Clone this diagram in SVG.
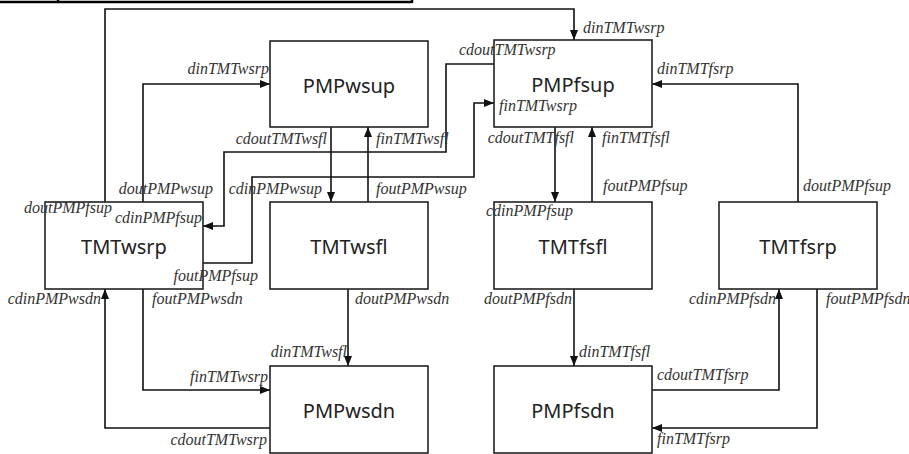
<svg xmlns="http://www.w3.org/2000/svg" width="909" height="454" viewBox="0 0 909 454">
  <defs>
    <marker id="arrow" markerUnits="userSpaceOnUse" markerWidth="11" markerHeight="8" refX="10" refY="4" orient="auto">
      <path d="M0,0 L10,4 L0,8 z" fill="#111"/>
    </marker>
    <style>
      .box { fill: #fff; stroke: #222; stroke-width: 1.6; }
      .name { font-family: "Noto Sans", "Open Sans", sans-serif; font-size: 20px; fill: #222; text-anchor: middle; dominant-baseline: central; }
      .wire { fill: none; stroke: #111; stroke-width: 1.6; }
      .arr { marker-end: url(#arrow); }
      .port { font-family: "Liberation Serif", "Times New Roman", serif; font-style: italic; font-size: 16px; fill: #333; }
      .end { text-anchor: end; }
      .frame { stroke: #000; stroke-width: 2.5; fill: none; }
    </style>
  </defs>

  <rect width="909" height="454" fill="#fff"/>

  <!-- table edge at the top -->
  <g id="table-edge">
    <path class="frame" d="M0,2 H412 M58,0 V3 M412,0 V3"/>
  </g>

  <!-- connectors -->
  <g id="connectors">
    <path class="wire arr" d="M105,202 V9 H574 V40"/>
    <path class="wire arr" d="M143,202 V84 H270"/>
    <path class="wire arr" d="M494,64 H446 V152 H224 V226 H203"/>
    <path class="wire arr" d="M203,263 H252 V177 H474 V103 H494"/>
    <path class="wire arr" d="M331,127 V202"/>
    <path class="wire arr" d="M368,202 V127"/>
    <path class="wire arr" d="M555,127 V202"/>
    <path class="wire arr" d="M592,202 V127"/>
    <path class="wire arr" d="M798,202 V84 H652"/>
    <path class="wire arr" d="M143,289 V390 H270"/>
    <path class="wire arr" d="M270,428 H105 V289"/>
    <path class="wire arr" d="M348,289 V366"/>
    <path class="wire arr" d="M574,289 V366"/>
    <path class="wire arr" d="M652,390 H779 V289"/>
    <path class="wire arr" d="M817,289 V428 H652"/>
  </g>

  <!-- nodes -->
  <g id="PMPwsup">
    <rect class="box" x="270" y="41" width="158" height="86"/>
    <text class="name" x="349" y="85">PMPwsup</text>
  </g>
  <g id="PMPfsup">
    <rect class="box" x="494" y="40" width="158" height="87"/>
    <text class="name" x="573" y="84">PMPfsup</text>
  </g>
  <g id="TMTwsrp">
    <rect class="box" x="45" y="202" width="158" height="87"/>
    <text class="name" x="124" y="246">TMTwsrp</text>
  </g>
  <g id="TMTwsfl">
    <rect class="box" x="270" y="202" width="158" height="87"/>
    <text class="name" x="349" y="246">TMTwsfl</text>
  </g>
  <g id="TMTfsfl">
    <rect class="box" x="494" y="202" width="158" height="87"/>
    <text class="name" x="573" y="246">TMTfsfl</text>
  </g>
  <g id="TMTfsrp">
    <rect class="box" x="719" y="202" width="158" height="87"/>
    <text class="name" x="798" y="246">TMTfsrp</text>
  </g>
  <g id="PMPwsdn">
    <rect class="box" x="270" y="366" width="158" height="87"/>
    <text class="name" x="349" y="410">PMPwsdn</text>
  </g>
  <g id="PMPfsdn">
    <rect class="box" x="494" y="366" width="158" height="87"/>
    <text class="name" x="573" y="410">PMPfsdn</text>
  </g>

  <!-- port labels -->
  <g id="port-labels">
    <text class="port end" x="269" y="74">dinTMTwsrp</text>
    <text class="port" x="583" y="33">dinTMTwsrp</text>
    <text class="port" x="459" y="55">cdoutTMTwsrp</text>
    <text class="port" x="657" y="74">dinTMTfsrp</text>
    <text class="port" x="499" y="111">finTMTwsrp</text>

    <text class="port end" x="327" y="144">cdoutTMTwsfl</text>
    <text class="port" x="376" y="144">finTMTwsfl</text>
    <text class="port end" x="213" y="194">doutPMPwsup</text>
    <text class="port end" x="322" y="194">cdinPMPwsup</text>
    <text class="port" x="376" y="194">foutPMPwsup</text>
    <text class="port end" x="112" y="213">doutPMPfsup</text>
    <text class="port end" x="202" y="223">cdinPMPfsup</text>

    <text class="port end" x="574" y="143">cdoutTMTfsfl</text>
    <text class="port" x="602" y="143">finTMTfsfl</text>
    <text class="port" x="603" y="191">foutPMPfsup</text>
    <text class="port" x="803" y="191">doutPMPfsup</text>
    <text class="port" x="486" y="216">cdinPMPfsup</text>

    <text class="port end" x="258" y="281">foutPMPfsup</text>
    <text class="port end" x="101" y="304">cdinPMPwsdn</text>
    <text class="port" x="152" y="304">foutPMPwsdn</text>
    <text class="port" x="355" y="304">doutPMPwsdn</text>
    <text class="port end" x="572" y="304">doutPMPfsdn</text>
    <text class="port end" x="776" y="304">cdinPMPfsdn</text>
    <text class="port" x="826" y="304">foutPMPfsdn</text>

    <text class="port end" x="347" y="357">dinTMTwsfl</text>
    <text class="port end" x="268" y="382">finTMTwsrp</text>
    <text class="port end" x="267" y="445">cdoutTMTwsrp</text>
    <text class="port" x="579" y="357">dinTMTfsfl</text>
    <text class="port" x="657" y="380">cdoutTMTfsrp</text>
    <text class="port" x="657" y="444">finTMTfsrp</text>
  </g>
</svg>
